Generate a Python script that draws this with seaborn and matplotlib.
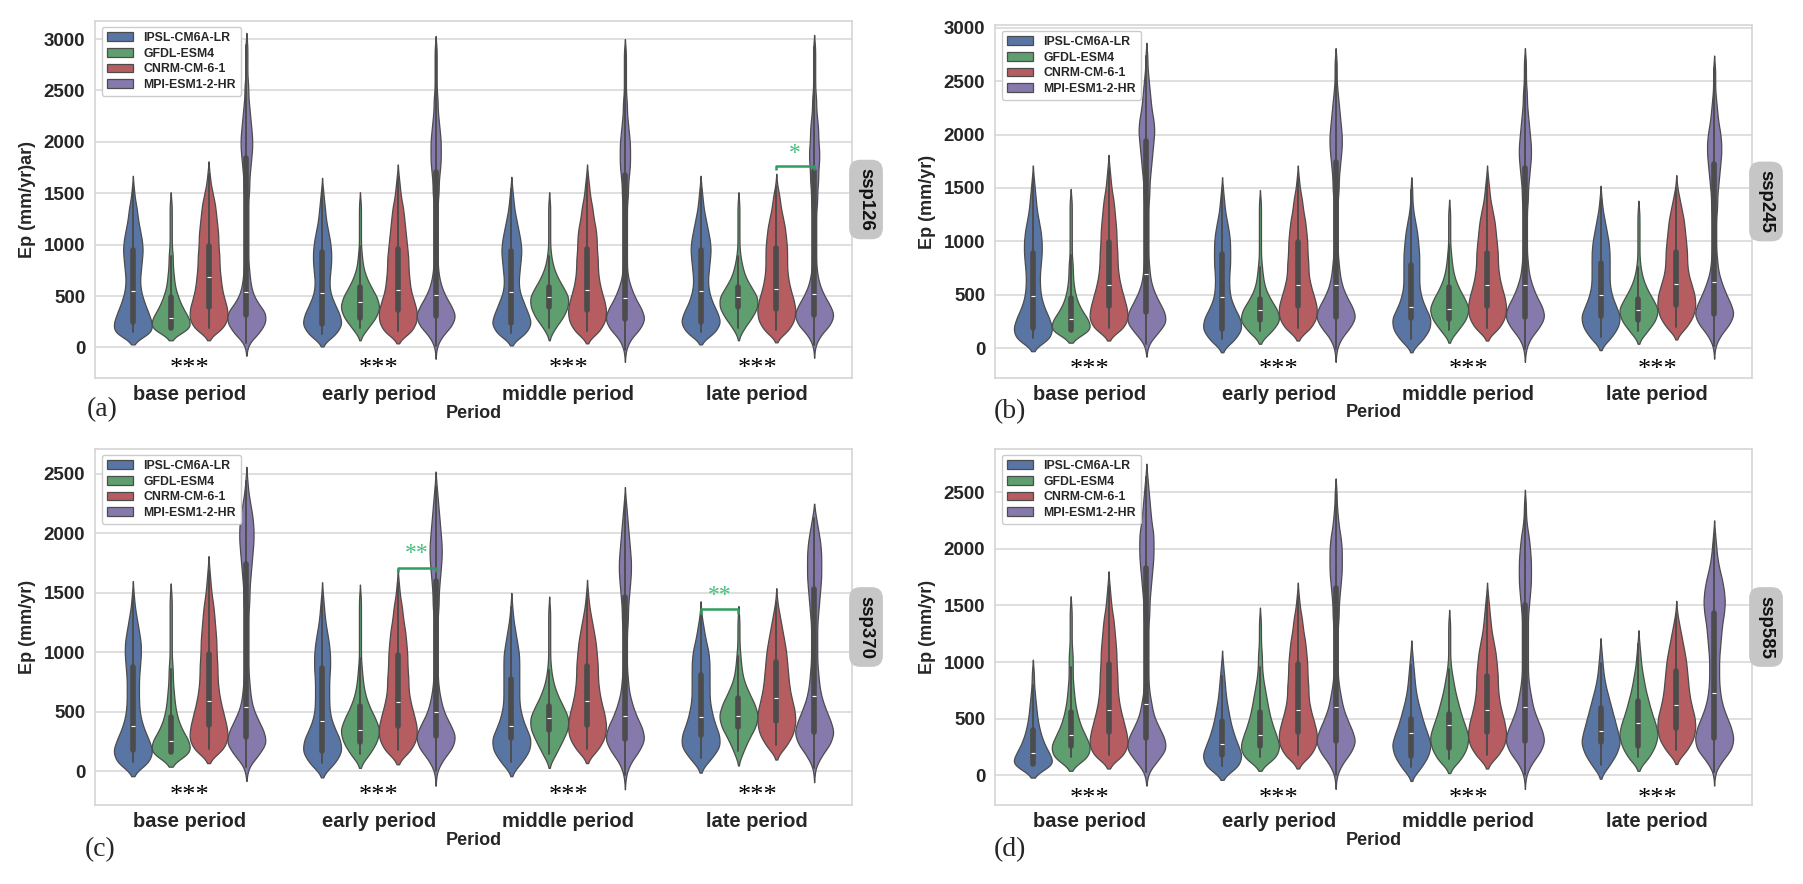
import numpy as np
import pandas as pd
import matplotlib
matplotlib.use("Agg")
import matplotlib.pyplot as plt
import seaborn as sns

# ---------------- data ----------------
periods = ["base period", "early period", "middle period", "late period"]
models = ["IPSL-CM6A-LR", "GFDL-ESM4", "CNRM-CM-6-1", "MPI-ESM1-2-HR"]
scenarios = ["ssp126", "ssp245", "ssp370", "ssp585"]
ylabels = ["Ep (mm/yr)ar)", "Ep (mm/yr)", "Ep (mm/yr)", "Ep (mm/yr)"]
panel_letters = ["(a)", "(b)", "(c)", "(d)"]
yticks_max = [3000, 3000, 2500, 2500]

# Each distribution: lowest value (mm/yr) and counts of grid cells in successive 100 mm/yr bins
BIN_STEP = 100

# ---- ssp126 ----
ssp126_ipsl_start = [150, 130, 140, 150]
ssp126_ipsl = [
    [20, 19, 15, 11, 8, 7, 8, 9, 10, 9, 7, 5, 4, 2, 1],
    [14, 20, 17, 12, 8, 7, 8, 9, 9, 8, 6, 4, 3, 2, 1],
    [15, 20, 16, 12, 8, 7, 8, 9, 10, 9, 7, 5, 3, 2, 1],
    [15, 20, 16, 11, 8, 7, 8, 9, 10, 9, 7, 5, 3, 2, 1],
]
ssp126_gfdl_start = [190, 190, 190, 190]
ssp126_gfdl = [
    [20, 17, 11, 7, 4, 3, 2, 2, 1, 1, 1, 1, 1],
    [8, 16, 20, 17, 11, 6, 3, 2, 1, 1, 1, 1, 1],
    [6, 14, 19, 20, 14, 8, 4, 2, 1, 1, 1, 1, 1],
    [6, 14, 20, 20, 13, 7, 4, 2, 1, 1, 1, 1, 1],
]
ssp126_cnrm_start = [190, 160, 160, 170]
ssp126_cnrm = [
    [14, 18, 17, 14, 12, 11, 10, 10, 9, 9, 8, 7, 6, 4, 2, 1],
    [14, 18, 18, 15, 12, 11, 10, 10, 9, 8, 7, 6, 5, 3, 2, 1],
    [12, 17, 18, 16, 13, 11, 10, 10, 9, 9, 8, 6, 5, 3, 2, 1],
    [12, 17, 18, 16, 13, 11, 10, 10, 10, 9, 8, 6, 4, 3, 1],
]
ssp126_mpi_start = [40, 10, -20, 20]
ssp126_mpi = [
    [2, 13, 20, 20, 11, 6, 4, 3, 2, 2, 2, 2, 2, 2, 2, 3, 3, 4, 5, 6, 6, 5, 4, 3, 2, 2, 1, 1, 1, 1],
    [1, 6, 16, 20, 15, 9, 5, 3, 2, 2, 2, 2, 2, 2, 2, 3, 3, 4, 5, 5, 5, 4, 3, 2, 2, 1, 1, 1, 1, 1],
    [1, 5, 15, 20, 16, 10, 6, 3, 2, 2, 2, 2, 2, 2, 2, 3, 3, 4, 5, 5, 5, 4, 3, 2, 2, 1, 1, 1, 1, 1],
    [1, 6, 16, 20, 15, 9, 5, 3, 2, 2, 2, 2, 2, 2, 3, 3, 4, 4, 5, 5, 4, 4, 3, 2, 2, 1, 1, 1, 1, 1],
]

# ---- ssp245 ----
ssp245_ipsl_start = [90, 80, 80, 100]
ssp245_ipsl = [
    [18, 20, 16, 11, 8, 7, 7, 8, 9, 9, 8, 6, 4, 3, 2, 1],
    [13, 20, 18, 12, 8, 7, 7, 8, 8, 8, 7, 5, 3, 2, 1],
    [12, 19, 20, 14, 10, 8, 8, 8, 8, 7, 6, 4, 2, 1, 1],
    [11, 18, 20, 15, 11, 9, 9, 9, 9, 8, 6, 4, 2, 1],
]
ssp245_gfdl_start = [170, 160, 170, 160]
ssp245_gfdl = [
    [20, 16, 9, 5, 3, 2, 2, 1, 1, 1, 1, 1, 1],
    [12, 20, 17, 10, 5, 3, 2, 1, 1, 1, 1, 1, 1],
    [9, 17, 20, 15, 9, 5, 3, 2, 1, 1, 1, 1],
    [9, 17, 20, 14, 8, 4, 2, 1, 1, 1, 1, 1],
]
ssp245_cnrm_start = [190, 190, 190, 200]
ssp245_cnrm = [
    [16, 20, 18, 15, 12, 10, 9, 9, 8, 8, 7, 6, 5, 3, 2, 1],
    [13, 18, 18, 15, 12, 10, 10, 9, 9, 8, 7, 5, 4, 2, 1],
    [12, 17, 18, 16, 13, 11, 10, 10, 9, 8, 7, 5, 3, 2, 1],
    [10, 16, 18, 17, 14, 11, 10, 10, 9, 8, 7, 5, 3, 1],
]
ssp245_mpi_start = [40, -10, -10, 20]
ssp245_mpi = [
    [2, 11, 20, 18, 12, 7, 4, 3, 2, 2, 2, 2, 2, 2, 3, 3, 4, 5, 6, 7, 8, 7, 5, 4, 3, 2, 1, 1],
    [1, 5, 14, 20, 16, 10, 6, 4, 3, 2, 2, 2, 2, 2, 2, 3, 3, 4, 5, 6, 6, 5, 4, 3, 2, 1, 1, 1],
    [1, 5, 14, 20, 17, 11, 7, 4, 3, 2, 2, 2, 2, 2, 3, 3, 4, 5, 6, 6, 5, 4, 3, 2, 2, 1, 1, 1],
    [1, 6, 15, 20, 16, 11, 7, 4, 3, 2, 2, 2, 2, 3, 3, 4, 5, 6, 7, 7, 6, 4, 3, 2, 1, 1, 1],
]

# ---- ssp370 ----
ssp370_ipsl_start = [80, 70, 80, 110]
ssp370_ipsl = [
    [17, 20, 15, 10, 7, 6, 6, 6, 7, 8, 8, 6, 4, 2, 1],
    [13, 20, 18, 12, 8, 7, 7, 7, 8, 8, 7, 5, 3, 2, 1],
    [11, 19, 20, 14, 10, 8, 8, 8, 8, 8, 6, 4, 2, 1],
    [11, 20, 19, 14, 11, 9, 9, 9, 9, 8, 5, 3, 1],
]
ssp370_gfdl_start = [160, 150, 150, 170]
ssp370_gfdl = [
    [20, 17, 10, 6, 4, 3, 2, 2, 1, 1, 1, 1, 1, 1],
    [10, 17, 20, 15, 9, 5, 3, 2, 1, 1, 1, 1, 1, 1],
    [7, 13, 19, 20, 14, 8, 4, 2, 1, 1, 1, 1, 1],
    [5, 10, 17, 20, 16, 10, 5, 3, 2, 1, 1, 1],
]
ssp370_cnrm_start = [190, 180, 190, 220]
ssp370_cnrm = [
    [16, 20, 18, 15, 12, 10, 9, 9, 8, 8, 7, 6, 5, 3, 2, 1],
    [13, 18, 18, 15, 12, 10, 10, 9, 9, 8, 7, 5, 4, 2, 1],
    [11, 17, 18, 16, 13, 11, 10, 10, 9, 8, 6, 4, 2, 1],
    [10, 16, 18, 17, 14, 12, 11, 10, 9, 7, 5, 3, 1],
]
ssp370_mpi_start = [40, 0, -30, 30]
ssp370_mpi = [
    [2, 12, 20, 17, 11, 6, 4, 3, 2, 2, 2, 2, 2, 2, 3, 3, 4, 5, 6, 7, 7, 6, 4, 2, 1],
    [1, 7, 17, 20, 14, 8, 5, 3, 2, 2, 2, 2, 2, 2, 3, 3, 4, 5, 6, 6, 5, 4, 3, 2, 1],
    [1, 5, 14, 20, 17, 11, 7, 4, 3, 2, 2, 2, 2, 3, 3, 4, 5, 6, 6, 5, 4, 3, 2, 1],
    [1, 7, 16, 20, 16, 11, 7, 5, 4, 3, 3, 3, 3, 4, 5, 6, 7, 7, 7, 6, 4, 2],
]

# ---- ssp585 ----
ssp585_ipsl_start = [100, 80, 70, 90]
ssp585_ipsl = [
    [20, 14, 9, 6, 4, 3, 2, 1, 1],
    [17, 20, 15, 11, 8, 6, 4, 3, 2, 1],
    [10, 17, 20, 16, 12, 9, 6, 4, 3, 2, 1],
    [9, 16, 20, 17, 14, 11, 8, 5, 3, 2, 1],
]
ssp585_gfdl_start = [160, 160, 140, 160]
ssp585_gfdl = [
    [18, 20, 14, 9, 6, 4, 3, 2, 2, 2, 1, 1, 1, 1],
    [17, 20, 16, 12, 9, 7, 5, 3, 2, 2, 1, 1, 1],
    [12, 18, 20, 16, 12, 9, 6, 4, 2, 1, 1, 1, 1],
    [11, 17, 20, 17, 13, 10, 7, 5, 3, 2, 1],
]
ssp585_cnrm_start = [180, 180, 180, 220]
ssp585_cnrm = [
    [16, 20, 18, 15, 12, 10, 9, 9, 8, 8, 7, 6, 5, 3, 2, 1],
    [13, 18, 18, 15, 12, 10, 10, 9, 9, 8, 7, 5, 4, 2, 1],
    [11, 17, 18, 16, 13, 11, 10, 10, 9, 8, 6, 4, 3, 2, 1],
    [10, 16, 18, 17, 14, 12, 11, 10, 9, 7, 5, 3, 1],
]
ssp585_mpi_start = [30, 0, 0, 30]
ssp585_mpi = [
    [2, 11, 20, 18, 12, 7, 5, 3, 2, 2, 2, 2, 2, 2, 3, 3, 4, 5, 6, 7, 7, 7, 5, 4, 3, 2, 1],
    [1, 6, 15, 20, 16, 11, 7, 5, 3, 2, 2, 2, 2, 2, 3, 3, 4, 5, 6, 6, 6, 5, 3, 2, 1, 1],
    [1, 6, 15, 20, 17, 12, 8, 6, 4, 3, 3, 3, 3, 3, 3, 4, 5, 6, 6, 6, 5, 4, 2, 1, 1],
    [1, 8, 18, 20, 17, 12, 8, 6, 5, 5, 5, 6, 7, 8, 10, 11, 10, 8, 5, 3, 2, 1],
]

# significance annotations
sig_scenario = ["ssp126", "ssp370", "ssp370"]
sig_period = [3, 1, 3]
sig_pair = [(2, 3), (2, 3), (0, 1)]
sig_height = [1766, 1708, 1362]
sig_label = ["*", "**", "**"]
base_sig_label = "***"
base_sig_value = -210

# ---------------- assemble tables ----------------
starts = {
    "ssp126": [ssp126_ipsl_start, ssp126_gfdl_start, ssp126_cnrm_start, ssp126_mpi_start],
    "ssp245": [ssp245_ipsl_start, ssp245_gfdl_start, ssp245_cnrm_start, ssp245_mpi_start],
    "ssp370": [ssp370_ipsl_start, ssp370_gfdl_start, ssp370_cnrm_start, ssp370_mpi_start],
    "ssp585": [ssp585_ipsl_start, ssp585_gfdl_start, ssp585_cnrm_start, ssp585_mpi_start],
}
counts = {
    "ssp126": [ssp126_ipsl, ssp126_gfdl, ssp126_cnrm, ssp126_mpi],
    "ssp245": [ssp245_ipsl, ssp245_gfdl, ssp245_cnrm, ssp245_mpi],
    "ssp370": [ssp370_ipsl, ssp370_gfdl, ssp370_cnrm, ssp370_mpi],
    "ssp585": [ssp585_ipsl, ssp585_gfdl, ssp585_cnrm, ssp585_mpi],
}


def build_frame(scn):
    rows = []
    for mi, model in enumerate(models):
        for pi, period in enumerate(periods):
            s = starts[scn][mi][pi]
            for k, c in enumerate(counts[scn][mi][pi]):
                rows.extend([(period, model, s + BIN_STEP * k)] * c)
    return pd.DataFrame(rows, columns=["Period", "Model", "Ep"])


BW = 60.0


def fixed_bw(kde):
    return BW / np.std(np.asarray(kde.dataset).ravel(), ddof=1)


# ---------------- style ----------------
sns.set_theme(style="whitegrid")
plt.rcParams["font.family"] = ["Liberation Sans", "DejaVu Sans"]

W, H = 1803, 884
fig = plt.figure(figsize=(W / 100, H / 100), dpi=100)

boxes = [(95, 21, 852, 378), (995, 25, 1752, 378), (95, 449, 852, 805), (995, 449, 1752, 805)]
ylims = [(-297, 3176), (-281, 3027), (-282, 2710), (-262, 2880)]
letter_pos = [(102, 410), (1010, 412), (100, 850), (1010, 850)]

deep = sns.color_palette("deep")
palette = [deep[0], deep[2], deep[3], deep[4]]
hue_off = [-0.3, -0.1, 0.1, 0.3]

for i, scn in enumerate(scenarios):
    l, t, r, b = boxes[i]
    ax = fig.add_axes([l / W, 1 - b / H, (r - l) / W, (b - t) / H])
    df = build_frame(scn)
    sns.violinplot(data=df, x="Period", y="Ep", hue="Model", order=periods,
                   hue_order=models, palette=palette, cut=2, bw_method=fixed_bw,
                   density_norm="width", inner="box", linewidth=0.9, ax=ax)
    ax.set_ylim(*ylims[i])
    ax.set_yticks(np.arange(0, yticks_max[i] + 1, 500))
    ax.set_xlim(-0.5, 3.5)
    ax.tick_params(axis="both", length=0)
    ax.tick_params(axis="y", pad=7)
    ax.tick_params(axis="x", pad=5)
    for lab in ax.get_yticklabels():
        lab.set_fontsize(13.5)
        lab.set_fontweight("bold")
    ax.set_xticks(range(4))
    ax.set_xticklabels(periods, fontsize=14.5, fontweight="bold")
    ax.set_ylabel(ylabels[i], fontsize=13, fontweight="bold")
    ax.yaxis.set_label_coords(-0.078, 0.5)
    ax.set_xlabel("Period", fontsize=13, fontweight="bold")
    ax.xaxis.set_label_coords(0.5, -0.075)
    ax.grid(axis="x", visible=False)
    ax.grid(axis="y", color="#dcdcdc", linewidth=1.3)
    for sp in ax.spines.values():
        sp.set_color("#d5d5d5")
        sp.set_linewidth(1.2)

    # legend
    leg = ax.get_legend()
    handles = leg.legend_handles
    labels = [tx.get_text() for tx in leg.get_texts()]
    leg.remove()
    ax.legend(handles, labels, loc="upper left",
              bbox_to_anchor=(7 / (r - l), 1 - 6 / (b - t)), borderaxespad=0,
              prop={"weight": "bold", "size": 8.8}, handlelength=2.1,
              handleheight=0.7, labelspacing=0.3, borderpad=0.4,
              handletextpad=0.9, frameon=True, edgecolor="#cccccc",
              facecolor="white", framealpha=1, fancybox=True)

    # scenario tag
    ax.text(1.0185, 0.5, scn, transform=ax.transAxes, rotation=270,
            ha="center", va="center", fontsize=13.4, fontweight="bold",
            color="#111111",
            bbox=dict(boxstyle="round,pad=0.45,rounding_size=0.6",
                      fc="#c6c6c6", ec="none"))

    # *** under each period
    for p in range(4):
        ax.text(p, base_sig_value, base_sig_label, ha="center", va="center", fontsize=19,
                family=["Liberation Serif", "DejaVu Serif"], color="black")

    # green brackets
    for k in range(len(sig_scenario)):
        if sig_scenario[k] != scn:
            continue
        p = sig_period[k]
        m0, m1 = sig_pair[k]
        x0, x1 = p + hue_off[m0], p + hue_off[m1]
        yb = sig_height[k]
        ax.plot([x0, x0, x1, x1], [yb - 35, yb, yb, yb - 35], color="#2e9e5e",
                lw=1.8, solid_capstyle="butt")
        ax.text((x0 + x1) / 2, yb + 120, sig_label[k], ha="center", va="center",
                fontsize=17, family=["Liberation Serif", "DejaVu Serif"],
                color="#45c07a")

    # panel letter
    lx, ly = letter_pos[i]
    fig.text(lx / W, 1 - ly / H, panel_letters[i], ha="center", va="center",
             fontsize=20, family=["Liberation Serif", "DejaVu Serif"])

fig.savefig("out.png", dpi=100)
